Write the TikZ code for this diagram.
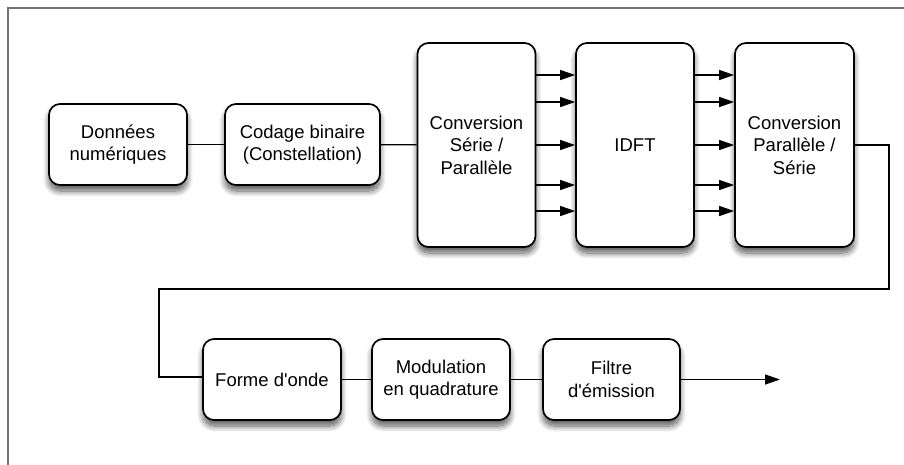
\documentclass[tikz,border=0pt]{standalone}
\usepackage{fontspec}
\setmainfont{Liberation Sans}
\usetikzlibrary{arrows.meta,shadows.blur}
\begin{document}
\begin{tikzpicture}[x=1pt,y=-1pt,
  box/.style={draw=black, line width=1.7pt, fill=white, rounded corners=11pt,
    minimum width=#1, inner sep=0pt, align=center,
    font=\fontsize{18.5}{22.5}\selectfont,
    blur shadow={shadow xshift=0pt, shadow yshift=-6pt, shadow blur radius=6pt, shadow blur steps=10, shadow opacity=65}},
  small/.style={box=138pt, minimum height=81pt},
  tall/.style={box=118pt, minimum height=204pt},
  conn/.style={line width=1.3pt},
  arr/.style={line width=1.3pt, -{Triangle[length=15pt,width=10pt]}}]
\useasboundingbox (0,0) rectangle (904,464);
\draw[line width=1.6pt, draw=black!55] (8,470) -- (8,8) -- (910,8);
\node[small] (don) at (118,144.5) {Données\\numériques};
\node[box=155pt, minimum height=81pt] (cod) at (302.5,144.5) {Codage binaire\\(Constellation)};
\node[tall] (sp) at (476.5,145) {Conversion\\Série /\\Parallèle};
\node[tall] (idft) at (635,145) {IDFT};
\node[box=119pt, minimum height=204pt] (ps) at (794.5,145) {Conversion\\Parallèle /\\Série};
\node[small] (fo) at (272,379.5) {Forme d\textquotesingle onde};
\node[small] (mod) at (441,379.5) {Modulation\\en quadrature};
\node[box=137pt, minimum height=81pt] (fil) at (611.5,379.5) {Filtre\\d\textquotesingle émission};
\coordinate (out) at (780,379.5);
\draw[conn] (don) -- (cod);
\draw[conn] (cod) -- (sp);
\foreach \y in {75,102,145,185,211}{
  \draw[arr] (sp.east |- 0,\y) -- (idft.west |- 0,\y);
  \draw[arr] (idft.east |- 0,\y) -- (ps.west |- 0,\y);
}
\draw[conn] (ps.east) -- (889,145) -- (889,289) -- (159,289) -- (159,377) -- (fo.west |- 0,377);
\draw[conn] (fo) -- (mod);
\draw[conn] (mod) -- (fil);
\draw[arr] (fil) -- (out);
\end{tikzpicture}
\end{document}
